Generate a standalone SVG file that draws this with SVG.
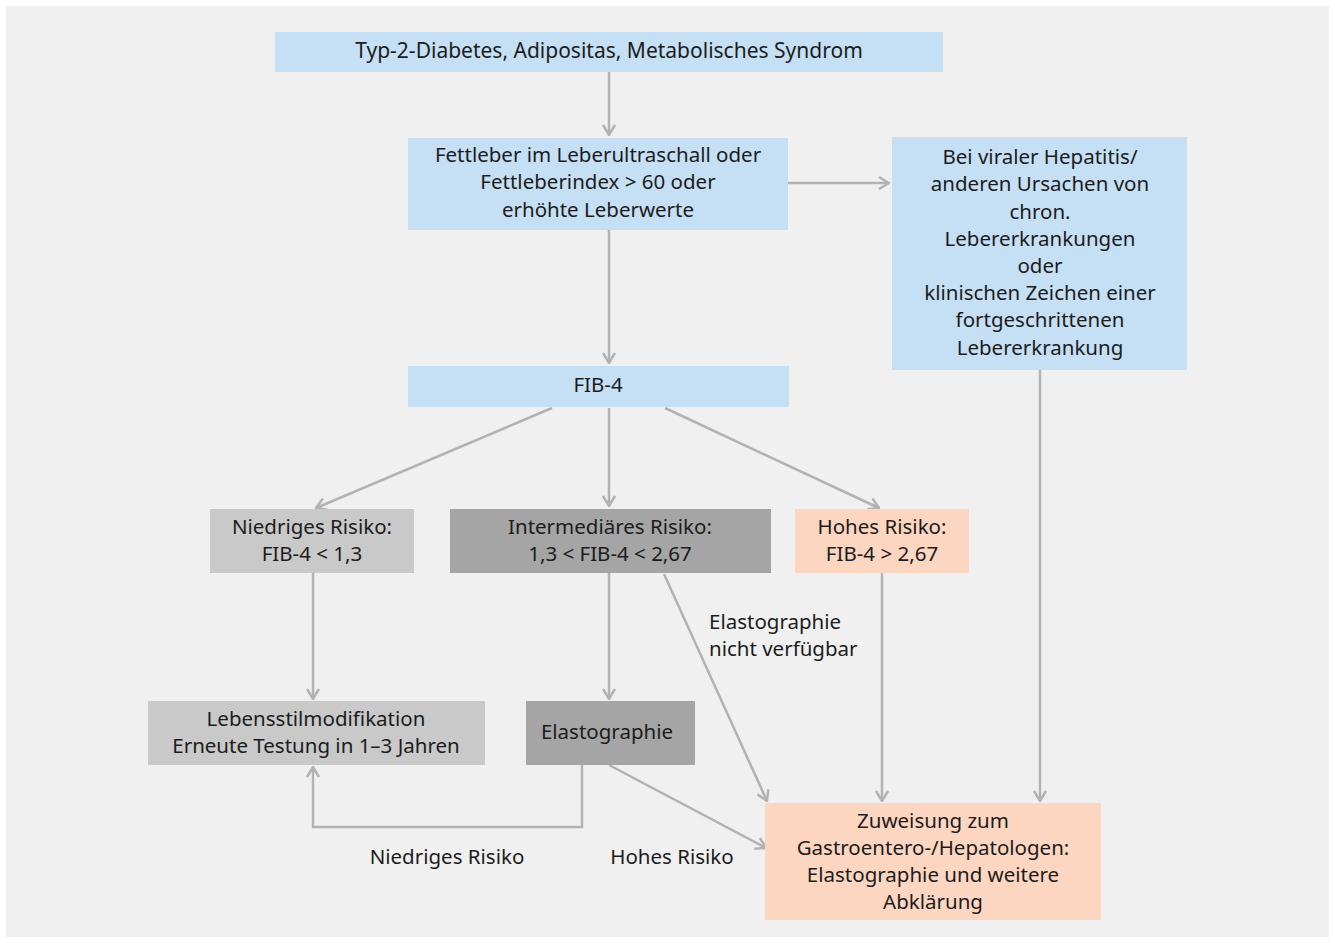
<svg xmlns="http://www.w3.org/2000/svg" width="1335" height="943" viewBox="0 0 1335 943">
<defs>
<style>
text{font-family:"Noto Sans","Open Sans","Liberation Sans",sans-serif;font-size:20.5px;fill:#1c1c1c;text-anchor:middle}
.l{text-anchor:start}
.t{font-size:21px}
.blue{fill:#c5dff4}
.lg{fill:#c8c9c8}
.dg{fill:#a4a5a4}
.or{fill:#fdd6c2}
.c{stroke:#b2b2b2;stroke-width:2.5;fill:none}
</style>
<marker id="a" viewBox="0 0 12 14" refX="11" refY="7" markerWidth="12" markerHeight="14" markerUnits="userSpaceOnUse" orient="auto">
<path d="M1,1 L11,7 L1,13" fill="none" stroke="#b2b2b2" stroke-width="2.5"/>
</marker>
</defs>
<rect x="0" y="0" width="1335" height="943" fill="#ffffff"/>
<rect x="6" y="6" width="1323" height="931" fill="#f0f0f0"/>
<g id="connectors">
<path class="c" d="M609,72 V135" marker-end="url(#a)"/>
<path class="c" d="M609,230 V363" marker-end="url(#a)"/>
<path class="c" d="M788,183 H889" marker-end="url(#a)"/>
<path class="c" d="M552,408 L316,508" marker-end="url(#a)"/>
<path class="c" d="M609,408 V506" marker-end="url(#a)"/>
<path class="c" d="M665,408 L879,508" marker-end="url(#a)"/>
<path class="c" d="M313,573 V699" marker-end="url(#a)"/>
<path class="c" d="M609,573 V699" marker-end="url(#a)"/>
<path class="c" d="M664,574 L767,801" marker-end="url(#a)"/>
<path class="c" d="M882,573 V801" marker-end="url(#a)"/>
<path class="c" d="M1040,370 V801" marker-end="url(#a)"/>
<path class="c" d="M582,765 V827 H313 V767" marker-end="url(#a)"/>
<path class="c" d="M609,765 L766,848" marker-end="url(#a)"/>
</g>
<g id="n1"><rect class="blue" x="275" y="32" width="668" height="40"/><text class="t" x="609" y="58">Typ-2-Diabetes, Adipositas, Metabolisches Syndrom</text></g>
<g id="n2"><rect class="blue" x="408" y="138" width="380" height="92"/>
<text x="598" y="162">Fettleber im Leberultraschall oder</text>
<text x="598" y="189">Fettleberindex &gt; 60 oder</text>
<text x="598" y="217">erhöhte Leberwerte</text></g>
<g id="n3"><rect class="blue" x="892" y="137" width="295" height="233"/>
<text x="1040" y="164">Bei viraler Hepatitis/</text>
<text x="1040" y="191">anderen Ursachen von</text>
<text x="1040" y="219">chron.</text>
<text x="1040" y="246">Lebererkrankungen</text>
<text x="1040" y="273">oder</text>
<text x="1040" y="300">klinischen Zeichen einer</text>
<text x="1040" y="327">fortgeschrittenen</text>
<text x="1040" y="355">Lebererkrankung</text></g>
<g id="n4"><rect class="blue" x="408" y="366" width="381" height="41"/><text x="598" y="392">FIB-4</text></g>
<g id="n5"><rect class="lg" x="210" y="509" width="204" height="64"/>
<text x="312" y="534">Niedriges Risiko:</text>
<text x="312" y="561">FIB-4 &lt; 1,3</text></g>
<g id="n6"><rect class="dg" x="450" y="509" width="321" height="64"/>
<text x="610" y="534">Intermediäres Risiko:</text>
<text x="610" y="561">1,3 &lt; FIB-4 &lt; 2,67</text></g>
<g id="n7"><rect class="or" x="795" y="509" width="174" height="64"/>
<text x="882" y="534">Hohes Risiko:</text>
<text x="882" y="561">FIB-4 &gt; 2,67</text></g>
<g id="n8"><rect class="lg" x="148" y="701" width="337" height="64"/>
<text x="316" y="726">Lebensstilmodifikation</text>
<text x="316" y="753">Erneute Testung in 1–3 Jahren</text></g>
<g id="n9"><rect class="dg" x="526" y="701" width="169" height="64"/>
<text x="607" y="739">Elastographie</text></g>
<g id="n10"><rect class="or" x="765" y="803" width="336" height="117"/>
<text x="933" y="828">Zuweisung zum</text>
<text x="933" y="855">Gastroentero-/Hepatologen:</text>
<text x="933" y="882">Elastographie und weitere</text>
<text x="933" y="909">Abklärung</text></g>
<g id="labels">
<text class="l" x="709" y="629">Elastographie</text>
<text class="l" x="709" y="656">nicht verfügbar</text>
<text x="447" y="864">Niedriges Risiko</text>
<text x="672" y="864">Hohes Risiko</text>
</g>
</svg>
